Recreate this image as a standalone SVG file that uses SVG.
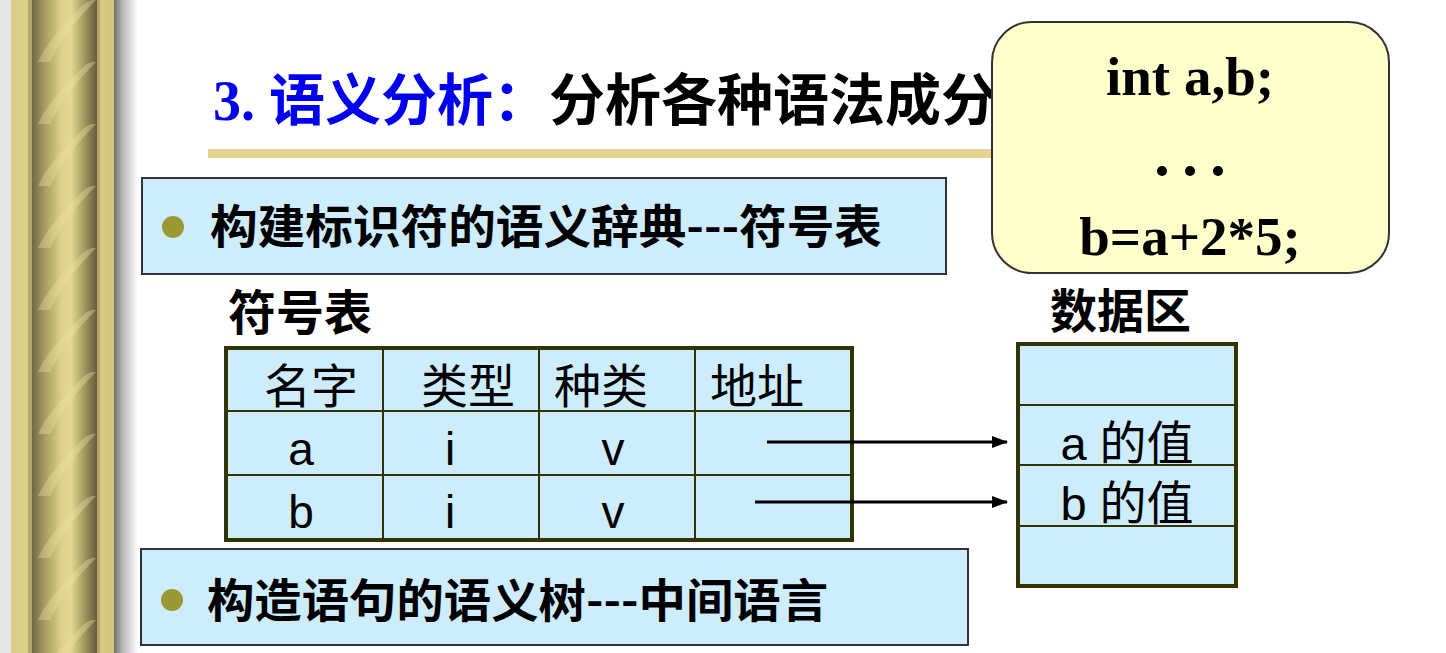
<svg xmlns="http://www.w3.org/2000/svg" width="1446" height="653" viewBox="0 0 1446 653">
<defs>
<linearGradient id="shadow" x1="0" y1="0" x2="1" y2="0">
<stop offset="0" stop-color="#6e6e6e"/>
<stop offset="0.35" stop-color="#b8b8b8"/>
<stop offset="1" stop-color="#ffffff"/>
</linearGradient>
<linearGradient id="edge" x1="0" y1="0" x2="1" y2="0">
<stop offset="0" stop-color="#d9cc86"/>
<stop offset="0.5" stop-color="#e6d994"/>
<stop offset="1" stop-color="#d2c47e"/>
</linearGradient>
<linearGradient id="column" x1="0" y1="0" x2="1" y2="0">
<stop offset="0" stop-color="#6f6842"/>
<stop offset="0.2" stop-color="#a89d62"/>
<stop offset="0.45" stop-color="#dcd08c"/>
<stop offset="0.6" stop-color="#e4d896"/>
<stop offset="0.8" stop-color="#a49a60"/>
<stop offset="1" stop-color="#625c3a"/>
</linearGradient>
<pattern id="rope" x="32" y="0" width="65" height="62" patternUnits="userSpaceOnUse">
<path d="M6,62 C14,44 30,26 50,6 C53,3 56,1 60,0 L64,0 C44,20 30,38 18,62 Z" fill="#efe3a2" fill-opacity="0.35"/>
</pattern>
<marker id="arr" markerWidth="16" markerHeight="12" refX="15" refY="6" orient="auto" markerUnits="userSpaceOnUse">
<path d="M0,0 L16,6 L0,12 Z" fill="#000"/>
</marker>
<style>
.cjkb{font-family:"Noto Sans CJK SC","Noto Sans",sans-serif;font-weight:bold;fill:#000}
.cjk{font-family:"Liberation Sans","Noto Sans CJK SC",sans-serif;fill:#000}
.lat{font-family:"Liberation Sans",Arial,sans-serif;fill:#000}
.code{font-family:"Liberation Serif","Times New Roman",serif;font-weight:bold;fill:#000}
.bluebox{fill:#cdedfd;stroke:#333333;stroke-width:2}
.cell{fill:#cdedfd;stroke:#333300;stroke-width:2}
.outer{fill:none;stroke:#333300;stroke-width:4}
.grid{stroke:#333300;stroke-width:2}
.bullet{fill:#999933}
.conn{stroke:#000;stroke-width:3;fill:none}
</style>
</defs>
<rect x="0" y="0" width="1446" height="653" fill="#ffffff"/>
<g id="pillar">
<rect x="0" y="0" width="11" height="653" fill="#e6e6e6"/>
<rect x="114" y="0" width="24" height="653" fill="url(#shadow)"/>
<rect x="11" y="0" width="103" height="653" fill="url(#edge)"/>
<rect x="28" y="0" width="4" height="653" fill="#b4a86c"/>
<rect x="97" y="0" width="3" height="653" fill="#b0a468"/>
<rect x="32" y="0" width="65" height="653" fill="url(#column)"/>
<rect x="32" y="0" width="65" height="653" fill="url(#rope)"/>
</g>
<g id="title">
<text x="213" y="120" font-size="56"><tspan font-family="'Liberation Serif',serif" font-weight="bold" fill="#0000ee">3. </tspan><tspan class="cjkb" style="fill:#0000ee">语义分析：</tspan><tspan class="cjkb">分析各种语法成分</tspan></text>
<rect x="208" y="149" width="790" height="9" fill="#e6d38d"/>
</g>
<g id="code-box">
<rect x="992" y="22" width="397" height="251" rx="40" ry="40" fill="#ffffcc" stroke="#333333" stroke-width="2"/>
<text class="code" x="1190" y="95" font-size="55" text-anchor="middle">int a,b;</text>
<circle cx="1162" cy="171" r="5" fill="#000"/>
<circle cx="1190" cy="171" r="5" fill="#000"/>
<circle cx="1218" cy="171" r="5" fill="#000"/>
<text class="code" x="1190" y="255" font-size="55" text-anchor="middle">b=a+2*5;</text>
</g>
<g id="bullet1">
<rect class="bluebox" x="142" y="178" width="804" height="96"/>
<circle class="bullet" cx="173" cy="227" r="11"/>
<text class="cjkb" x="210" y="243" font-size="46" textLength="672" lengthAdjust="spacingAndGlyphs">构建标识符的语义辞典---符号表</text>
</g>
<g id="symtab-label">
<text class="cjkb" x="228" y="330" font-size="48">符号表</text>
</g>
<g id="symtab">
<rect class="cell" x="226" y="348" width="626" height="192"/>
<line class="grid" x1="383" y1="348" x2="383" y2="540"/>
<line class="grid" x1="539" y1="348" x2="539" y2="540"/>
<line class="grid" x1="695" y1="348" x2="695" y2="540"/>
<line class="grid" x1="226" y1="411" x2="852" y2="411"/>
<line class="grid" x1="226" y1="475" x2="852" y2="475"/>
<rect class="outer" x="226" y="348" width="626" height="192"/>
<text class="cjk" x="311" y="403" font-size="47" text-anchor="middle">名字</text>
<text class="cjk" x="468" y="403" font-size="47" text-anchor="middle">类型</text>
<text class="cjk" x="601" y="403" font-size="47" text-anchor="middle">种类</text>
<text class="cjk" x="757" y="403" font-size="47" text-anchor="middle">地址</text>
<text class="lat" x="301" y="465" font-size="46" text-anchor="middle">a</text>
<text class="lat" x="450" y="465" font-size="46" text-anchor="middle">i</text>
<text class="lat" x="613" y="465" font-size="46" text-anchor="middle">v</text>
<text class="lat" x="301" y="528" font-size="46" text-anchor="middle">b</text>
<text class="lat" x="450" y="528" font-size="46" text-anchor="middle">i</text>
<text class="lat" x="613" y="528" font-size="46" text-anchor="middle">v</text>
</g>
<g id="data-label">
<text class="cjkb" x="1050" y="328" font-size="47">数据区</text>
</g>
<g id="data-area">
<rect class="cell" x="1018" y="344" width="218" height="242"/>
<line class="grid" x1="1018" y1="405" x2="1236" y2="405"/>
<line class="grid" x1="1018" y1="465" x2="1236" y2="465"/>
<line class="grid" x1="1018" y1="526" x2="1236" y2="526"/>
<rect class="outer" x="1018" y="344" width="218" height="242"/>
<text class="cjk" x="1127" y="460" font-size="47" text-anchor="middle">a 的值</text>
<text class="cjk" x="1127" y="520" font-size="47" text-anchor="middle">b 的值</text>
</g>
<g id="connectors">
<line class="conn" x1="767" y1="442" x2="1007" y2="442" marker-end="url(#arr)"/>
<line class="conn" x1="755" y1="502" x2="1007" y2="502" marker-end="url(#arr)"/>
</g>
<g id="bullet2">
<rect class="bluebox" x="141" y="549" width="827" height="96"/>
<circle class="bullet" cx="172" cy="600" r="11"/>
<text class="cjkb" x="207" y="617" font-size="46" textLength="621" lengthAdjust="spacingAndGlyphs">构造语句的语义树---中间语言</text>
</g>
</svg>
